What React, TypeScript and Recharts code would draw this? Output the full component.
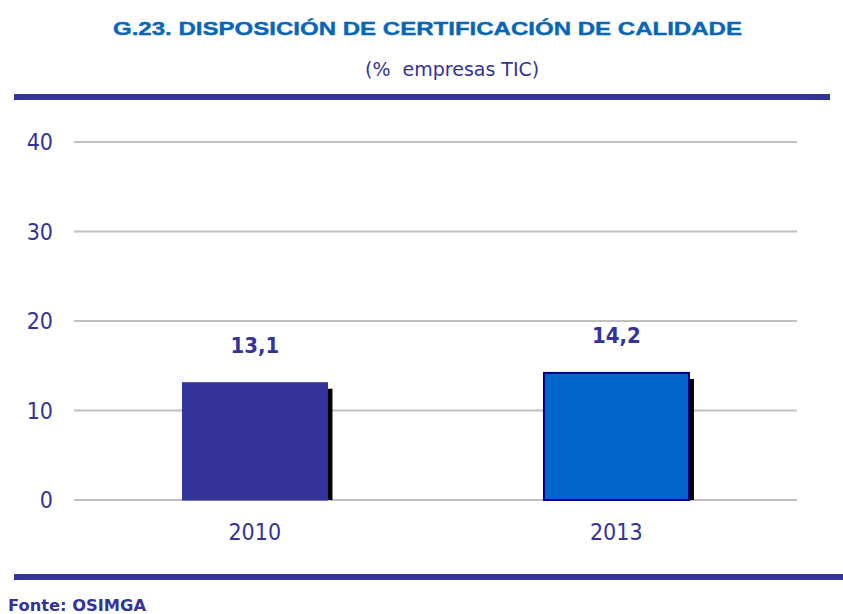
import React from 'react';
import { BarChart, Bar, XAxis, YAxis, CartesianGrid, Cell, LabelList } from 'recharts';

const categories = ['2010', '2013'];
const values = [13.1, 14.2];
const barColors = ['#333399', '#0066CC'];
const barStrokes = ['#333399', '#000080'];
const yTicks = [0, 10, 20, 30, 40];

const data = categories.map((c, i) => ({ year: c, value: values[i] }));

const NAVY = '#333399';
const TICK_FONT = '"DejaVu Sans Condensed", "DejaVu Sans", Verdana, sans-serif';

const ShadowBar = (props: any) => {
  const { x, y, width, height, index } = props;
  if (height <= 0) return null;
  return (
    <g>
      <rect x={x + 5} y={y + 6} width={width} height={height - 6} fill="#000000" />
      <rect
        x={x}
        y={y}
        width={width}
        height={height}
        fill={barColors[index]}
        stroke={barStrokes[index]}
        strokeWidth={index === 1 ? 2 : 1}
      />
    </g>
  );
};

const fmt = (v: any) => String(v).replace('.', ',');

export default function App() {
  return (
    <div style={{ position: 'absolute', left: 0, top: 0, width: 843, height: 614, background: '#fff', overflow: 'hidden' }}>
      <div
        style={{
          position: 'absolute',
          left: 0,
          width: 855,
          top: 18,
          textAlign: 'center',
          fontFamily: '"Liberation Sans", Arial, sans-serif',
          fontWeight: 'bold',
          fontSize: 19,
          lineHeight: 'normal',
          color: '#0866B8',
          whiteSpace: 'nowrap',
          transform: 'scaleX(1.265)',
          transformOrigin: '427.5px 0',
          WebkitTextStroke: '0.4px #0866B8',
        }}
      >
        G.23. DISPOSICIÓN DE CERTIFICACIÓN DE CALIDADE
      </div>
      <div
        style={{
          position: 'absolute',
          left: 365,
          top: 58,
          fontFamily: '"DejaVu Sans", Verdana, sans-serif',
          fontSize: 19,
          color: NAVY,
          whiteSpace: 'pre',
        }}
      >
        {'(%  empresas TIC)'}
      </div>
      <div style={{ position: 'absolute', left: 14, top: 94, width: 816, height: 6, background: NAVY }} />
      <div style={{ position: 'absolute', left: 14, top: 574, width: 829, height: 6, background: NAVY }} />
      <div
        style={{
          position: 'absolute',
          left: 8,
          top: 599,
          fontFamily: '"DejaVu Sans", Verdana, sans-serif',
          fontWeight: 'bold',
          fontSize: 16.3,
          lineHeight: '14px',
          color: NAVY,
          whiteSpace: 'nowrap',
        }}
      >
        Fonte: OSIMGA
      </div>
      <div style={{ position: 'absolute', left: 0, top: 0 }}>
        <BarChart
          width={843}
          height={614}
          data={data}
          margin={{ top: 142, right: 46, bottom: 74, left: 14 }}
          barCategoryGap="30%"
        >
          <CartesianGrid vertical={false} stroke="#C0C0C0" strokeWidth={2} />
          <XAxis
            dataKey="year"
            axisLine={false}
            tickLine={false}
            tickSize={0}
            tickMargin={24}
            height={40}
            tick={{ fill: NAVY, fontSize: 23, fontFamily: TICK_FONT }}
          />
          <YAxis
            domain={[0, 40]}
            ticks={yTicks}
            axisLine={false}
            tickLine={false}
            tickSize={0}
            tickMargin={21}
            width={60}
            tick={{ fill: NAVY, fontSize: 23, fontFamily: TICK_FONT }}
          />
          <Bar dataKey="value" isAnimationActive={false} shape={ShadowBar}>
            {data.map((d, i) => (
              <Cell key={d.year} fill={barColors[i]} />
            ))}
            <LabelList
              dataKey="value"
              position="top"
              offset={30}
              formatter={fmt}
              style={{ fill: NAVY, fontSize: 22, fontWeight: 'bold', fontFamily: TICK_FONT }}
            />
          </Bar>
        </BarChart>
      </div>
    </div>
  );
}
